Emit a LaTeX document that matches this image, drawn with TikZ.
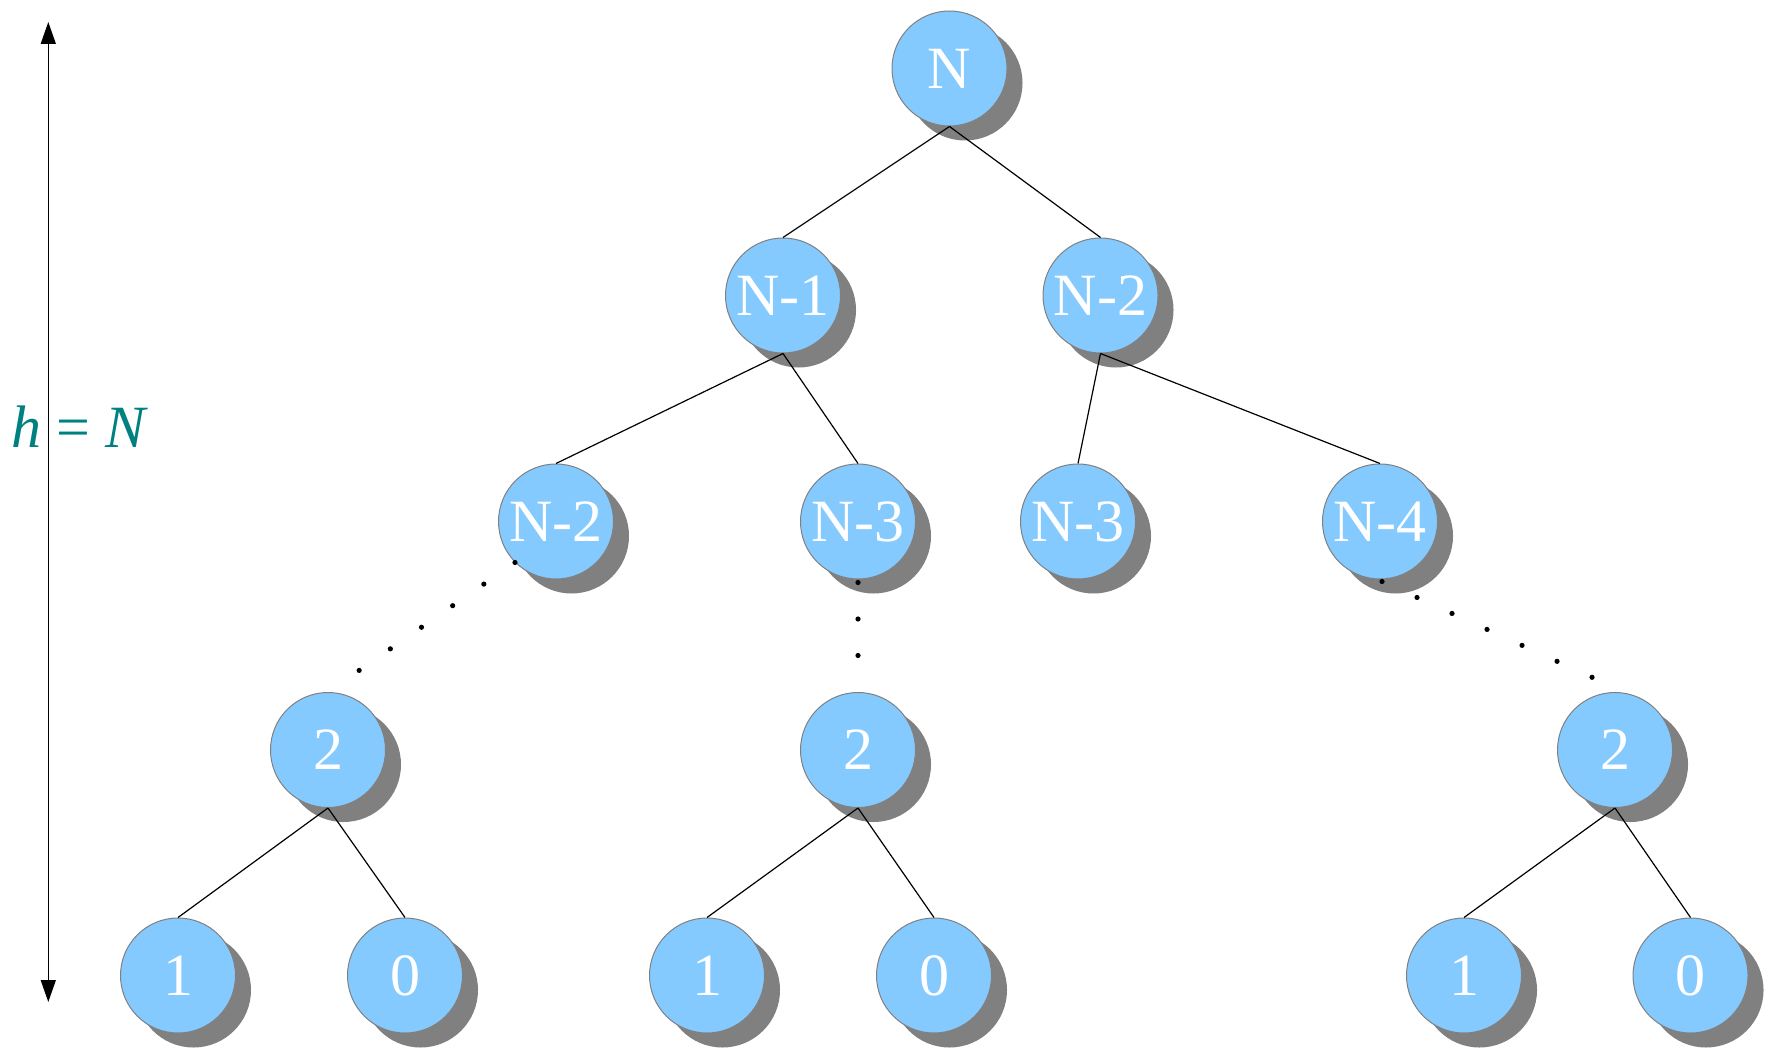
\documentclass[tikz,border=0pt]{standalone}
\usepackage{fontspec}
\setmainfont{Liberation Serif}
\usetikzlibrary{arrows.meta,shadows,calc}
\definecolor{nodeblue}{RGB}{133,202,255}
\definecolor{shadowgray}{RGB}{128,128,128}
\definecolor{tealtext}{RGB}{0,128,128}
\begin{document}
\begin{tikzpicture}[x=1pt,y=-1pt,
  tnode/.style={circle, fill=nodeblue, draw=shadowgray, line width=1pt,
    minimum size=115pt, inner sep=0pt, text=white,
    font=\fontsize{60}{62}\selectfont,
    general shadow={fill=shadowgray, shadow xshift=15.5pt, shadow yshift=-14.5pt}},
  link/.style={black, line width=1.2pt},
  dotmark/.style={fill=black},
  heightarrow/.style={line width=1.5pt, {Triangle[length=22pt,width=15pt]}-{Triangle[length=22pt,width=15pt]}}
]
\useasboundingbox (0,0) rectangle (1768,1048);

% nodes
\node[tnode] (R) at (949.5,68.5) {N};
\node[tnode] (A) at (783,295.5) {N-1};
\node[tnode] (B) at (1100.5,295.5) {N-2};
\node[tnode] (C) at (556,521.5) {N-2};
\node[tnode] (D) at (858,521.5) {N-3};
\node[tnode] (E) at (1078,521.5) {N-3};
\node[tnode] (F) at (1380,521.5) {N-4};
\node[tnode] (G) at (328,750) {2};
\node[tnode] (H) at (858,750) {2};
\node[tnode] (I) at (1615,750) {2};
\node[tnode] (L1) at (178,975.5) {1};
\node[tnode] (L2) at (405,975.5) {0};
\node[tnode] (L3) at (707,975.5) {1};
\node[tnode] (L4) at (934,975.5) {0};
\node[tnode] (L5) at (1464,975.5) {1};
\node[tnode] (L6) at (1690.5,975.5) {0};

% connectors
\draw[link] (R.south) -- (A.north);
\draw[link] (R.south) -- (B.north);
\draw[link] (A.south) -- (C.north);
\draw[link] (A.south) -- (D.north);
\draw[link] (B.south) -- (E.north);
\draw[link] (B.south) -- (F.north);
\draw[link] (G.south) -- (L1.north);
\draw[link] (G.south) -- (L2.north);
\draw[link] (H.south) -- (L3.north);
\draw[link] (H.south) -- (L4.north);
\draw[link] (I.south) -- (L5.north);
\draw[link] (I.south) -- (L6.north);

% dotted continuations
\foreach \i in {0,...,5}
  \fill[dotmark] ($(C.225)!\i/6!(G.north)$) circle[radius=2.6pt];
\foreach \i in {0,...,2}
  \fill[dotmark] ($($(D.south)+(0,3)$)!\i/3!(H.north)$) circle[radius=2.6pt];
\foreach \i in {0,...,6}
  \fill[dotmark] ($($(F.south)+(2,2)$)!\i/7!(I.78)$) circle[radius=2.6pt];

% height arrow
\coordinate (htop) at (48.3,22);
\coordinate (hbot) at (48.3,1002);
\draw[heightarrow] (htop) -- (hbot);
\node[anchor=base, text=tealtext, font=\fontsize{60}{62}\selectfont, inner sep=0pt] (hlabel) at (80,447) {\textit{h} = \textit{N}};
\end{tikzpicture}
\end{document}
